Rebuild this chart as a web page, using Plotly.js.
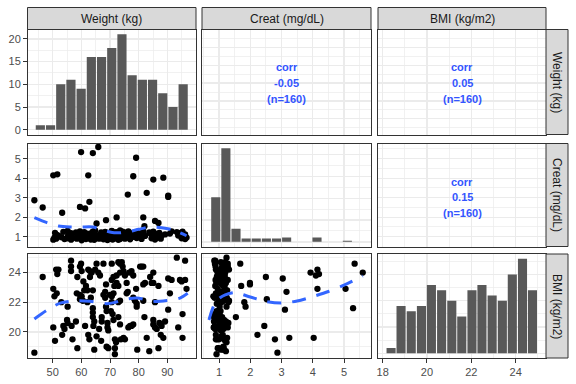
<!DOCTYPE html>
<html><head><meta charset="utf-8">
<script src="https://cdn.plot.ly/plotly-3.0.1.min.js"></script>
<style>html,body{margin:0;padding:0;background:#fff;}#chart{width:576px;height:384px;}</style>
</head><body><div id="chart"></div>
<script>
// ---------------- DATA ----------------
const varLabels = ["Weight (kg)", "Creat (mg/dL)", "BMI (kg/m2)"];

const weight = [43.6,46.5,50.2,50.6,51.4,50.2,50.8,51.2,52.0,51.6,53.0,53.7,54.1,53.3,55.0,55.2,55.2,56.4,56.4,56.4,
56.6,56.9,58.1,58.4,58.6,58.6,59.5,59.9,60.1,59.5,60.1,59.5,60.5,60.7,61.0,61.3,61.6,62.1,62.4,63.0,
63.0,63.6,62.1,62.4,62.8,63.3,64.0,64.0,64.0,64.0,64.5,64.2,64.8,65.3,65.9,66.5,64.5,65.3,66.2,66.9,
67.1,67.1,67.7,67.7,68.3,68.3,68.6,68.8,68.6,69.1,69.1,69.4,68.8,69.4,70.6,71.2,70.6,71.5,70.0,70.6,
71.2,70.6,70.3,70.9,71.2,71.7,72.1,71.7,71.7,72.3,72.9,72.3,72.9,73.5,74.1,74.4,73.5,74.7,75.2,72.9,
73.5,72.9,73.5,73.8,74.7,75.2,75.8,76.2,75.8,76.7,77.5,78.1,76.4,77.0,77.5,78.1,78.1,78.7,79.3,79.3,
79.5,79.1,80.5,81.0,81.6,81.6,81.6,82.2,82.0,82.8,84.0,84.5,85.1,85.1,83.7,85.1,85.1,85.7,85.7,86.3,
86.9,86.9,87.2,88.0,87.7,88.6,89.2,90.3,91.5,90.9,90.3,93.3,96.2,93.8,94.4,95.0,96.2,95.3,95.3,96.7];

const creat = [2.87,2.50,4.15,0.95,1.10,0.85,1.20,0.90,1.05,4.20,0.98,1.25,0.88,2.23,0.92,1.30,1.02,0.85,1.18,1.00,
1.08,0.94,1.22,0.90,1.05,1.15,1.28,5.34,0.96,1.10,0.82,2.53,1.14,1.00,1.24,2.45,0.88,1.16,4.15,1.06,
0.93,1.20,1.02,1.12,2.79,0.86,1.26,5.29,0.98,1.10,0.84,1.18,1.32,1.68,5.60,0.95,1.14,1.08,0.90,1.22,
1.00,1.12,0.87,1.16,1.04,1.25,1.85,0.92,1.10,1.20,0.83,1.06,1.14,0.96,1.28,1.02,0.89,1.18,1.08,1.12,
0.94,1.30,1.05,0.86,1.16,1.00,1.24,1.10,0.92,1.99,1.14,0.98,1.20,0.88,1.06,1.26,1.12,0.95,1.18,1.08,
1.32,0.84,1.02,1.16,1.10,0.90,1.22,3.16,1.04,0.96,1.14,4.10,1.28,0.87,1.08,1.20,1.00,1.12,0.93,1.24,
1.06,5.05,1.16,0.89,1.10,1.30,1.99,1.04,1.54,3.25,1.18,0.92,1.08,3.93,1.22,1.02,1.26,0.86,1.81,1.14,
1.71,0.98,1.20,1.06,0.90,4.03,1.12,3.04,1.28,1.16,3.11,1.24,0.88,1.06,1.18,0.92,1.12,1.02,1.26,0.96];

const bmi = [18.6,23.7,22.9,22.4,22.6,20.3,19.4,24.2,24.2,23.9,22.0,20.4,20.2,19.8,20.8,20.6,21.7,24.8,24.4,24.1,
20.4,19.5,20.7,22.6,23.7,18.9,24.4,24.6,24.1,22.5,22.4,22.2,22.1,23.4,22.8,20.4,23.1,22.8,24.2,24.1,
23.7,24.0,22.0,19.8,19.5,22.3,22.8,21.6,21.3,21.0,20.7,20.4,24.2,24.6,24.0,23.8,18.8,19.7,20.2,19.4,
21.0,20.7,24.6,22.5,22.7,22.3,21.7,21.4,23.2,20.6,20.3,20.1,19.0,18.9,24.6,23.7,23.5,23.1,22.5,22.4,
22.6,22.0,21.4,21.2,20.8,19.5,19.3,18.9,18.5,23.3,23.1,23.8,24.7,24.6,24.7,24.4,24.0,24.1,23.8,22.0,
22.1,21.0,20.5,19.5,19.6,19.5,23.3,22.7,22.6,24.0,24.1,23.8,20.3,20.4,20.4,20.5,22.3,22.1,21.9,21.7,
18.8,22.9,24.4,24.4,24.4,22.1,23.2,23.3,21.0,19.6,23.7,23.3,23.3,24.0,18.7,20.8,20.5,20.3,22.0,20.2,
23.1,18.9,20.6,20.4,19.8,19.6,20.7,23.6,23.5,22.6,21.5,25.0,24.8,20.3,23.5,23.4,23.5,21.2,19.6,22.9];

// histogram bins (centers) and counts
const weightBinCenters = [45.68,49.24,52.80,56.36,59.92,63.48,67.04,70.60,74.16,77.72,81.28,84.84,88.40,91.96,95.52];
const weightBinWidth = 3.56;
const weightCounts = [1,1,10,11,9,16,16,18,21,12,11,11,8,5,10];

const creatBinCenters = [0.896,1.220,1.544,1.868,2.192,2.516,2.840,3.164,3.488,3.812,4.136,4.460,4.784,5.108];
const creatBinWidth = 0.324;
const creatCounts = [41,86,12,3,3,3,3,4,0,0,4,0,0,1];

const bmiBinCenters = [18.38,18.83,19.29,19.75,20.20,20.66,21.12,21.57,22.03,22.48,22.94,23.40,23.85,24.31,24.76];
const bmiBinWidth = 0.456;
const bmiCounts = [1,9,8,9,13,12,10,7,12,13,11,10,15,18,12];

// loess smooth lines
const smoothWC_x = [43.6,48,52,56,60,64,68,72,76,80,84,88,92,96.7];
const smoothWC_y = [1.98,1.72,1.55,1.50,1.50,1.50,1.32,1.20,1.25,1.38,1.50,1.46,1.35,1.05];

const smoothWB_x = [43.6,47.9,52.6,58.4,63,68.8,71.7,74.6,79.3,85.1,89.8,94.4,97.1];
const smoothWB_y = [20.87,21.45,21.94,22.10,22.06,21.90,21.99,22.17,22.28,22.06,22.12,22.28,22.60];

const smoothCB_x = [0.68,0.75,0.85,1.0,1.2,1.5,2.0,2.5,3.0,3.5,4.0,4.5,5.0,5.6];
const smoothCB_y = [20.8,21.3,21.85,22.25,22.5,22.65,22.35,22.05,21.95,22.08,22.38,22.72,23.15,23.78];

const corrVals = ["-0.05", "0.05", "0.15"];
const nObs = 160;

// tick labels
const weightTicks = [50, 60, 70, 80, 90];
const creatTicks = [1, 2, 3, 4, 5];
const bmiTicksX = [18, 20, 22, 24];
const bmiTicksY = [20, 22, 24];
const countTicks = [0, 5, 10, 15, 20];

// ---------------- LAYOUT ----------------
const FONT = "Liberation Sans, Arial, Helvetica, sans-serif";
const W = 576, H = 384;
const M = {l: 27, r: 30, t: 29, b: 26};
const PW = W - M.l - M.r, PH = H - M.t - M.b;
const fx = px => (px - M.l) / PW;
const fy = py => (H - M.b - py) / PH;

const colPx = [[27.5, 196], [202, 371], [378, 546]];
const rowPx = [[29.5, 134.5], [143.5, 246.5], [254, 358]];

const xRanges = [[41.2, 100.0], [0.456, 5.864], [17.79, 25.37]];
const xDt = [[10, 5], [1, 0.5], [2, 1]];
const xTickVals = [weightTicks, creatTicks, bmiTicksX];
const yInfo = [
  [{r: [-1.05, 22.05], d: [5, 2.5], tv: countTicks}, {r: [41.2, 100.0], d: [10, 5]}, {r: [41.2, 100.0], d: [10, 5]}],
  [{r: [0.5, 5.78], d: [1, 0.5], tv: creatTicks}, {r: [-4.3, 90.3], d: [20, 10]}, {r: [0.5, 5.78], d: [1, 0.5]}],
  [{r: [18.24, 25.25], d: [2, 1], tv: bmiTicksY}, {r: [18.24, 25.25], d: [2, 1]}, {r: [-0.9, 18.9], d: [5, 2.5]}]
];

const layout = {
  width: W, height: H, margin: M, showlegend: false,
  paper_bgcolor: "#ffffff", plot_bgcolor: "rgba(0,0,0,0)",
  font: {family: FONT, size: 11, color: "#4D4D4D"},
  shapes: [], annotations: []
};

function baseAxis() {
  return {
    showline: true, mirror: true, linecolor: "#333333", linewidth: 1,
    showgrid: true, gridcolor: "#EBEBEB", gridwidth: 1.4,
    zeroline: false, ticks: "", showticklabels: false, fixedrange: true,
    tickfont: {family: FONT, size: 11, color: "#4D4D4D"},
    tick0: 0
  };
}

for (let r = 0; r < 3; r++) {
  for (let c = 0; c < 3; c++) {
    const k = r * 3 + c + 1;
    const xa = baseAxis(), ya = baseAxis();
    xa.domain = [fx(colPx[c][0]), fx(colPx[c][1])];
    ya.domain = [fy(rowPx[r][1]), fy(rowPx[r][0])];
    xa.anchor = "y" + k; ya.anchor = "x" + k;
    xa.range = xRanges[c]; xa.dtick = xDt[c][0];
    xa.minor = {showgrid: true, gridcolor: "#EBEBEB", gridwidth: 0.7, dtick: xDt[c][1], tick0: 0};
    const yi = yInfo[r][c];
    ya.range = yi.r; ya.dtick = yi.d[0];
    ya.minor = {showgrid: true, gridcolor: "#EBEBEB", gridwidth: 0.7, dtick: yi.d[1], tick0: 0};
    if (r === 2) {
      Object.assign(xa, {ticks: "outside", ticklen: 3.5, tickwidth: 1, tickcolor: "#333333",
        showticklabels: true, tickmode: "array", tickvals: xTickVals[c]});
    }
    if (c === 0) {
      Object.assign(ya, {ticks: "outside", ticklen: 3.5, tickwidth: 1, tickcolor: "#333333",
        showticklabels: true, tickmode: "array", tickvals: yi.tv});
    }
    layout["xaxis" + (k === 1 ? "" : k)] = xa;
    layout["yaxis" + (k === 1 ? "" : k)] = ya;
  }
}

// strips
const stripFill = "#D9D9D9", stripLine = "#333333";
for (let c = 0; c < 3; c++) {
  layout.shapes.push({type: "rect", xref: "paper", yref: "paper",
    x0: fx(colPx[c][0]), x1: fx(colPx[c][1]), y0: fy(29.5), y1: fy(7.5),
    fillcolor: stripFill, line: {color: stripLine, width: 1}});
  layout.annotations.push({xref: "paper", yref: "paper", x: (fx(colPx[c][0]) + fx(colPx[c][1])) / 2,
    y: fy(18.5), text: varLabels[c], showarrow: false, xanchor: "center", yanchor: "middle",
    font: {family: FONT, size: 12, color: "#1A1A1A"}});
}
for (let r = 0; r < 3; r++) {
  layout.shapes.push({type: "rect", xref: "paper", yref: "paper",
    x0: fx(546), x1: fx(568), y0: fy(rowPx[r][1]), y1: fy(rowPx[r][0]),
    fillcolor: stripFill, line: {color: stripLine, width: 1}});
  layout.annotations.push({xref: "paper", yref: "paper", x: fx(557),
    y: (fy(rowPx[r][0]) + fy(rowPx[r][1])) / 2, text: varLabels[r], textangle: 90,
    showarrow: false, xanchor: "center", yanchor: "middle",
    font: {family: FONT, size: 12, color: "#1A1A1A"}});
}

// correlation text panels: (1,2), (1,3), (2,3)
const corrPanels = [[1, 2], [1, 3], [2, 3]];
corrPanels.forEach((p, i) => {
  const k = (p[0] - 1) * 3 + p[1];
  const lines = ["corr", corrVals[i], "(n=" + nObs + ")"];
  const shifts = [15.5, 0, -16];
  const extra = p[0] === 2 ? -2 : -0.7;
  lines.forEach((t, j) => {
    layout.annotations.push({xref: "x" + k + " domain", yref: "y" + k + " domain", x: 0.5, y: 0.5,
      yshift: shifts[j] + extra, text: "<b>" + t + "</b>", showarrow: false,
      xanchor: "center", yanchor: "middle",
      font: {family: FONT, size: 11, color: "#3355FF"}});
  });
});

// ---------------- TRACES ----------------
const barColor = "#595959";
const ptStyle = {color: "#000000", size: 6.3};
const smoothLine = {color: "#3366FF", width: 3, dash: "14px,11px", shape: "spline", smoothing: 0.8};

const traces = [
  {type: "bar", x: weightBinCenters, y: weightCounts, width: weightBinWidth * 0.9,
   marker: {color: barColor}, xaxis: "x", yaxis: "y", hoverinfo: "skip"},
  {type: "bar", x: creatBinCenters, y: creatCounts, width: creatBinWidth * 0.9,
   marker: {color: barColor}, xaxis: "x5", yaxis: "y5", hoverinfo: "skip"},
  {type: "bar", x: bmiBinCenters, y: bmiCounts, width: bmiBinWidth * 0.9,
   marker: {color: barColor}, xaxis: "x9", yaxis: "y9", hoverinfo: "skip"},

  {type: "scatter", mode: "markers", x: weight, y: creat, marker: ptStyle, xaxis: "x4", yaxis: "y4"},
  {type: "scatter", mode: "lines", x: smoothWC_x, y: smoothWC_y, line: smoothLine, xaxis: "x4", yaxis: "y4"},

  {type: "scatter", mode: "markers", x: weight, y: bmi, marker: ptStyle, xaxis: "x7", yaxis: "y7"},
  {type: "scatter", mode: "lines", x: smoothWB_x, y: smoothWB_y, line: smoothLine, xaxis: "x7", yaxis: "y7"},

  {type: "scatter", mode: "markers", x: creat, y: bmi, marker: ptStyle, xaxis: "x8", yaxis: "y8"},
  {type: "scatter", mode: "lines", x: smoothCB_x, y: smoothCB_y, line: smoothLine, xaxis: "x8", yaxis: "y8"},

  {type: "scatter", mode: "markers", x: [], y: [], xaxis: "x2", yaxis: "y2"},
  {type: "scatter", mode: "markers", x: [], y: [], xaxis: "x3", yaxis: "y3"},
  {type: "scatter", mode: "markers", x: [], y: [], xaxis: "x6", yaxis: "y6"}
];

Plotly.newPlot("chart", traces, layout, {staticPlot: true, displayModeBar: false});
</script>
</body></html>
